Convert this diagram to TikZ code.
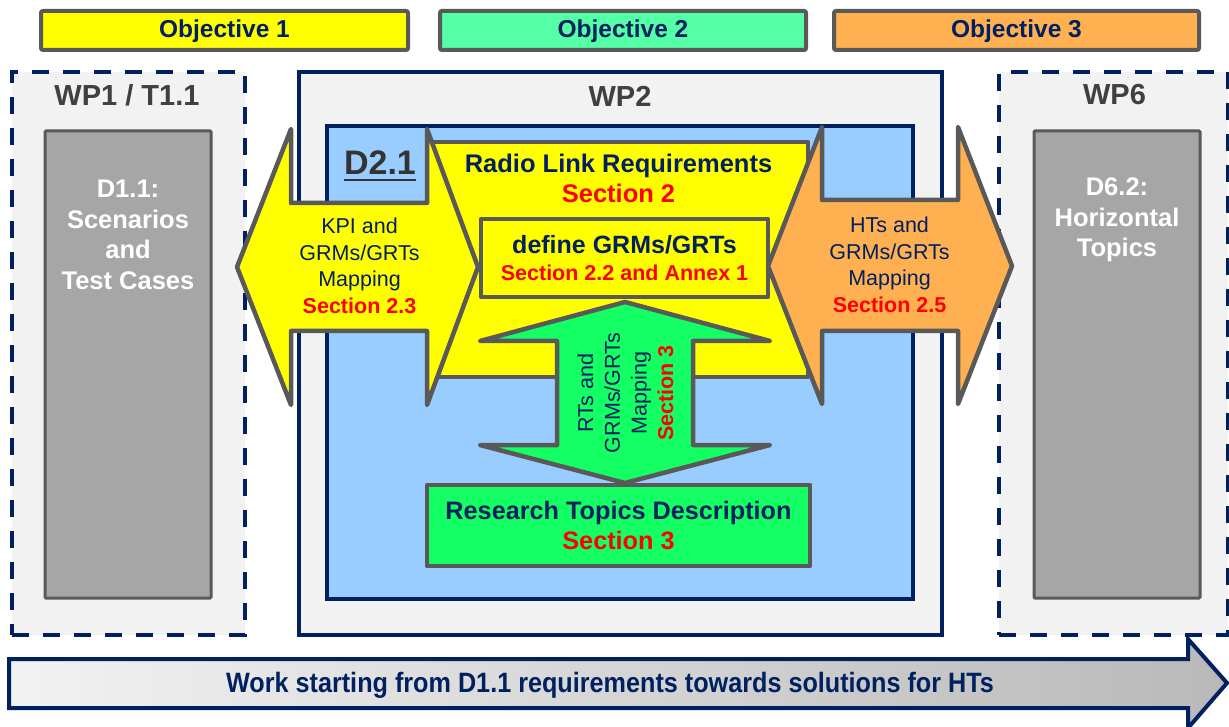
\documentclass[tikz,border=0pt]{standalone}
\usepackage{fontspec}
\setmainfont{Liberation Sans}
\usepackage{graphicx}
\definecolor{navy}{HTML}{002060}
\definecolor{bordergray}{HTML}{595959}
\definecolor{lightbg}{HTML}{F2F2F2}
\definecolor{boxgray}{HTML}{A6A6A6}
\definecolor{wptext}{HTML}{404040}
\definecolor{skyblue}{HTML}{99CCFF}
\definecolor{objyellow}{HTML}{FFFF00}
\definecolor{objgreen}{HTML}{55FFA5}
\definecolor{objorange}{HTML}{FFB050}
\definecolor{brightgreen}{HTML}{14FF64}
\definecolor{secred}{HTML}{FF0000}
\definecolor{dtext}{HTML}{333333}
\newcommand{\fsz}[2]{\fontsize{#1}{#2}\selectfont}
\tikzset{
  objbox/.style={draw=bordergray, line width=4pt, rounded corners=2pt, inner sep=0pt,
    minimum height=39pt, text height=18pt, text depth=3pt, font=\fsz{24.5}{30}\bfseries, text=navy},
  wpdash/.style={draw=navy, line width=4pt, dash pattern=on 17pt off 14pt, fill=lightbg,
    inner sep=0pt, minimum height=563pt},
  wpsolid/.style={draw=navy, line width=4pt, fill=lightbg, inner sep=0pt, minimum height=563pt},
  wptitle/.style={font=\fsz{29}{34}\bfseries, text=wptext, anchor=base, inner sep=0pt},
  delgray/.style={draw=bordergray, line width=3pt, fill=boxgray, rounded corners=1pt,
    inner sep=0pt, minimum width=166pt, minimum height=467pt},
  deltext/.style={font=\fsz{25.5}{30.5}\bfseries, text=white, align=center},
  grayline/.style={draw=bordergray, line width=4.5pt, line join=round},
  boxtext/.style={text=navy, align=center, inner sep=0pt},
  maptext/.style={font=\fsz{21.5}{26.5}, text=navy, align=center, inner sep=0pt},
}
\begin{document}
\begin{tikzpicture}[x=1pt, y=-1pt]
\useasboundingbox (0,0) rectangle (1229,727);
\fill[white] (0,0) rectangle (1229,727);

% objectives
\node[objbox, fill=objyellow, minimum width=367pt] (obj1) at (224.5,30.5) {Objective 1};
\node[objbox, fill=objgreen,  minimum width=366pt] (obj2) at (623,30.5) {Objective 2};
\node[objbox, fill=objorange, minimum width=365pt] (obj3) at (1016.5,30.5) {Objective 3};

% work packages
\node[wpdash, minimum width=233pt] (wp1) at (128.5,353.5) {};
\node[wpsolid, minimum width=643pt] (wp2) at (620.5,353.5) {};
\node[wpdash, minimum width=229pt] (wp6) at (1113.5,353.5) {};
\node[wptitle] (wp1t) at (127,106) {WP1 / T1.1};
\node[wptitle] (wp2t) at (620,107) {WP2};
\node[wptitle] (wp6t) at (1114.5,105) {WP6};

% deliverables of WP1 / WP6
\node[delgray] (d11) at (128,364.5) {};
\node[deltext] (d11t) at (128,235) {D1.1:\\Scenarios\\and\\Test Cases};
\node[delgray] (d62) at (1117,364.5) {};
\node[deltext] (d62t) at (1117,220) {D6.2:\\Horizontal\\Topics};

% D2.1 area
\node[draw=navy, line width=4pt, fill=skyblue, inner sep=0pt, minimum width=586pt, minimum height=473pt] (d21box) at (620,362.5) {};
\node[font=\fsz{34}{40}\bfseries, text=dtext, anchor=base, inner sep=0pt] (d21) at (380,175) {D2.1};
\draw[dtext, line width=2.5pt] ([yshift=-5pt]d21.base west) -- ([yshift=-5pt]d21.base east);

% radio link requirements
\node[grayline, fill=objyellow, inner sep=0pt, minimum width=380pt, minimum height=235pt] (radio) at (618,259.5) {};
\node[boxtext, font=\fsz{25.5}{30}\bfseries] (radiot) at (618.5,178.7) {Radio Link Requirements\\\textcolor{secred}{Section 2}};
\node[grayline, fill=objyellow, boxtext, font=\fsz{25}{27}\bfseries, minimum width=287pt, minimum height=78pt] (define) at (624.5,258)
  {define GRMs/GRTs\\\textcolor{secred}{\fsz{21.5}{27}\bfseries Section 2.2 and Annex 1}};

% green vertical double arrow
\coordinate (gtop) at (625,302);
\coordinate (gbot) at (625,483);
\draw[grayline, fill=brightgreen] (gtop) -- (770,341) -- (693,341) -- (693,445) -- (770,445) -- (gbot)
  -- (480,445) -- (557,445) -- (557,341) -- (480,341) -- cycle;
\node[maptext, font=\fsz{21.5}{26.7}, rotate=90] (rtt) at (625.5,393)
  {RTs and\\GRMs/GRTs\\Mapping\\\textcolor{secred}{\bfseries Section 3}};

% research topics
\node[grayline, fill=brightgreen, boxtext, font=\fsz{25.25}{30}\bfseries, minimum width=383pt, minimum height=81pt] (rtd) at (618.5,525.5)
  {Research Topics Description\\\textcolor{secred}{Section 3}};

% left yellow double arrow
\coordinate (ltip) at (237,267);
\coordinate (rtip) at (478,267);
\draw[grayline, fill=objyellow] (ltip) -- (291,129) -- (291,203) -- (427,203) -- (427,129) -- (rtip)
  -- (427,405) -- (427,331) -- (291,331) -- (291,405) -- cycle;
\node[maptext] (kpit) at (359.5,266) {KPI and\\GRMs/GRTs\\Mapping\\\textcolor{secred}{\bfseries Section 2.3}};

% right orange double arrow
\coordinate (oltip) at (768,266);
\coordinate (ortip) at (1012,266);
\draw[grayline, fill=objorange] (oltip) -- (822,127) -- (822,200) -- (958,200) -- (958,127) -- (ortip)
  -- (958,404) -- (958,331) -- (822,331) -- (822,404) -- cycle;
\node[maptext] (htt) at (889.5,264.7) {HTs and\\GRMs/GRTs\\Mapping\\\textcolor{secred}{\bfseries Section 2.5}};

% bottom arrow
\coordinate (btip) at (1227,683);
\draw[navy, line width=4pt, line join=miter, left color=lightbg, right color=gray!55]
  (9,659) -- (1188,659) -- (1188,639) -- (btip) -- (1188,728) -- (1188,708) -- (9,708) -- cycle;
\node[font=\fsz{28}{32}\bfseries, text=navy, anchor=base, inner sep=0pt] (work) at (610,692.5)
  {\scalebox{0.9}[1]{Work starting from D1.1 requirements towards solutions for HTs}};
\end{tikzpicture}
\end{document}
